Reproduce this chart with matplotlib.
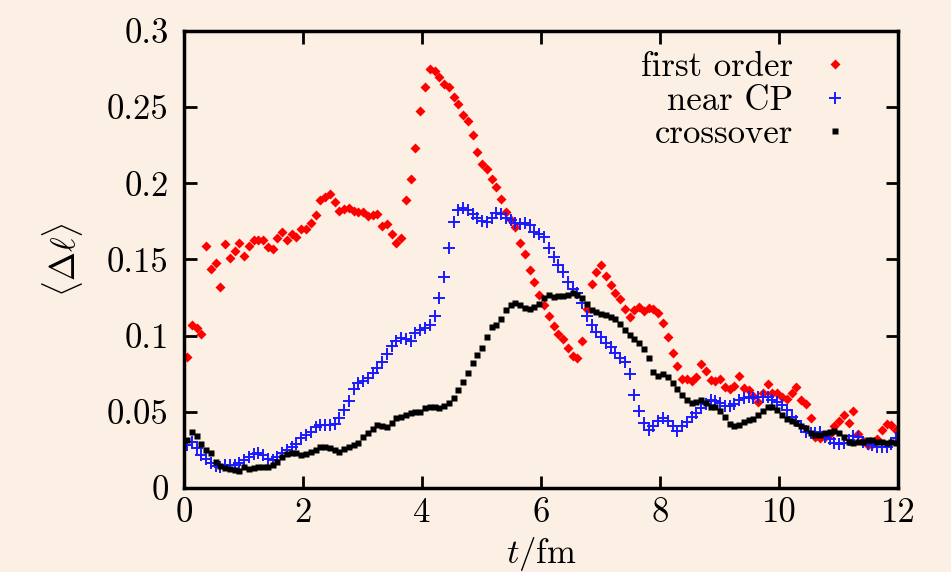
import numpy as np
import matplotlib
matplotlib.use("Agg")
from matplotlib import pyplot as plt
import matplotlib.ticker as ticker

# <Delta l> against time for the three expansion scenarios
first_order = [
    0.086, 0.107, 0.105, 0.101, 0.159, 0.1435, 0.1475, 0.132, 0.160, 0.151,
    0.1555, 0.161, 0.152, 0.159, 0.163, 0.163, 0.163, 0.158, 0.157, 0.164,
    0.168, 0.163, 0.167, 0.1645, 0.170, 0.170, 0.174, 0.1795, 0.189, 0.191,
    0.193, 0.188, 0.182, 0.183, 0.184, 0.182, 0.1815, 0.1815, 0.1785, 0.1795,
    0.180, 0.172, 0.1735, 0.167, 0.1605, 0.164, 0.189, 0.203, 0.223, 0.2475,
    0.263, 0.275, 0.2738, 0.270, 0.2655, 0.2633, 0.257, 0.2524, 0.245, 0.241,
    0.2316, 0.2207, 0.213, 0.2093, 0.203, 0.1977, 0.1894, 0.181, 0.176, 0.171,
    0.161, 0.1533, 0.143, 0.1354, 0.127, 0.120, 0.1129, 0.1063, 0.1008, 0.0976,
    0.092, 0.0868, 0.0851, 0.0967, 0.1173, 0.1337, 0.1415, 0.1463, 0.139, 0.1332,
    0.128, 0.124, 0.1175, 0.112, 0.1168, 0.119, 0.116, 0.1183, 0.1175, 0.115,
    0.108, 0.099, 0.0888, 0.080, 0.0715, 0.0715, 0.0704, 0.073, 0.0814, 0.0768,
    0.0709, 0.0702, 0.0713, 0.066, 0.0648, 0.067, 0.0735, 0.0658, 0.0643, 0.0605,
    0.0566, 0.0621, 0.0682, 0.0625, 0.0625, 0.060, 0.0582, 0.0621, 0.066, 0.0577,
    0.0551, 0.046, 0.0337, 0.033, 0.0335, 0.0355, 0.0405, 0.0442, 0.0479, 0.0424,
    0.0507, 0.0355, 0.031, 0.0285, 0.029, 0.032, 0.0378, 0.0418, 0.0413, 0.038,
]

near_cp = [
    0.028, 0.030, 0.026, 0.0217, 0.0188, 0.0162, 0.0144, 0.014, 0.0151, 0.0151,
    0.015, 0.0162, 0.0184, 0.0206, 0.022, 0.0232, 0.0217, 0.0188, 0.0184, 0.0206,
    0.0228, 0.025, 0.0267, 0.0289, 0.0326, 0.0348, 0.037, 0.040, 0.0413, 0.0413,
    0.0413, 0.042, 0.0457, 0.0512, 0.0573, 0.0648, 0.0687, 0.0702, 0.0724, 0.0757,
    0.0785, 0.0829, 0.0877, 0.0932, 0.0967, 0.0982, 0.0976, 0.0967, 0.1019, 0.1037,
    0.1048, 0.107, 0.1131, 0.1245, 0.1387, 0.1573, 0.1743, 0.1824, 0.1835, 0.1824,
    0.1796, 0.1774, 0.1752, 0.1743, 0.1774, 0.1802, 0.1798, 0.177, 0.1759, 0.1737,
    0.1732, 0.1737, 0.1726, 0.1682, 0.167, 0.165, 0.1573, 0.1518, 0.1463, 0.1419,
    0.1354, 0.1304, 0.1278, 0.1216, 0.1129, 0.107, 0.1026, 0.0993, 0.0953, 0.0923,
    0.0888, 0.0851, 0.0829, 0.0748, 0.061, 0.0505, 0.0425, 0.038, 0.0407, 0.0442,
    0.0457, 0.0442, 0.0407, 0.0376, 0.0407, 0.0435, 0.0464, 0.0494, 0.0523, 0.0551,
    0.0577, 0.0573, 0.0556, 0.0538, 0.0538, 0.0551, 0.0577, 0.0588, 0.0599, 0.0592,
    0.0599, 0.060, 0.0595, 0.0577, 0.0566, 0.0545, 0.0512, 0.0468, 0.0442, 0.0407,
    0.037, 0.0359, 0.036, 0.037, 0.0337, 0.032, 0.0297, 0.0289, 0.0293, 0.0315,
    0.0341, 0.0337, 0.0304, 0.0289, 0.0282, 0.0271, 0.0271, 0.0271, 0.029, 0.0326,
]

crossover = [
    0.0315, 0.037, 0.0343, 0.0287, 0.025, 0.0228, 0.0173, 0.0144, 0.0129, 0.0123,
    0.0118, 0.0114, 0.0136, 0.0123, 0.0129, 0.0136, 0.0136, 0.014, 0.0151, 0.0173,
    0.0206, 0.0221, 0.0232, 0.0228, 0.0217, 0.0222, 0.0235, 0.025, 0.0271, 0.0268,
    0.026, 0.025, 0.0238, 0.0255, 0.0271, 0.0282, 0.0293, 0.0337, 0.0363, 0.0385,
    0.0413, 0.041, 0.0402, 0.0424, 0.0457, 0.0468, 0.048, 0.049, 0.050, 0.050,
    0.0523, 0.0534, 0.0534, 0.0523, 0.0538, 0.0556, 0.0589, 0.0643, 0.0697, 0.0757,
    0.0818, 0.0873, 0.092, 0.0993, 0.1054, 0.107, 0.1107, 0.1168, 0.120, 0.1214,
    0.120, 0.1179, 0.1176, 0.119, 0.1205, 0.125, 0.1266, 0.1255, 0.1258, 0.126,
    0.127, 0.1278, 0.1266, 0.1245, 0.121, 0.117, 0.1155, 0.1144, 0.1135, 0.112,
    0.1107, 0.1076, 0.1035, 0.1007, 0.098, 0.0955, 0.0913, 0.0853, 0.0763, 0.0738,
    0.0748, 0.0726, 0.0687, 0.0648, 0.061, 0.0577, 0.0556, 0.0566, 0.0577, 0.0556,
    0.0534, 0.0529, 0.0507, 0.0464, 0.042, 0.0407, 0.0413, 0.0435, 0.0446, 0.045,
    0.0479, 0.0507, 0.0534, 0.0529, 0.0512, 0.0479, 0.045, 0.0442, 0.0428, 0.0407,
    0.0392, 0.0359, 0.0348, 0.0348, 0.0359, 0.037, 0.0376, 0.0363, 0.0333, 0.0304,
    0.0297, 0.0304, 0.0304, 0.0315, 0.0315, 0.0304, 0.0304, 0.0297, 0.030, 0.0297,
]

x_ticks = [0, 2, 4, 6, 8, 10, 12]
y_ticks = [0, 0.05, 0.1, 0.15, 0.2, 0.25, 0.3]

BG = '#fcf0e5'
FS = 25

plt.rcParams['font.family'] = 'cmr10'
plt.rcParams['mathtext.fontset'] = 'cm'
plt.rcParams['axes.formatter.use_mathtext'] = True


def sample_times(values):
    """uniform time samples covering the run, one per value"""
    return np.linspace(0.05, 11.97, len(values))


fig = plt.figure(figsize=(9.51, 5.72), dpi=100, facecolor=BG)
ax = fig.add_axes([0.1935, 0.1469, 0.7508, 0.7989])
ax.set_facecolor(BG)

ax.plot(sample_times(first_order), first_order, 'D', color='#ff0000',
        ms=5.6, mec='none', label='first order')
ax.plot(sample_times(near_cp), near_cp, '+', color='#1a1aff',
        ms=8, mew=1.4, label='near CP')
ax.plot(sample_times(crossover), crossover, 's', color='black',
        ms=5, mec='none', label='crossover')

ax.set_xlim(0, 12)
ax.set_ylim(0, 0.3)
ax.set_xticks(x_ticks)
ax.set_yticks(y_ticks)
fmt = ticker.FuncFormatter(lambda v, pos: '{:g}'.format(round(v, 3)))
ax.xaxis.set_major_formatter(fmt)
ax.yaxis.set_major_formatter(fmt)
ax.tick_params(direction='in', length=9, width=2, top=True, right=True,
               labelsize=FS)
ax.tick_params(axis='x', pad=7)
ax.tick_params(axis='y', pad=11)
for s in ax.spines.values():
    s.set_linewidth(2.5)

ax.set_xlabel(r'$t/\mathrm{fm}$', fontsize=FS, labelpad=4)
ax.set_ylabel(r'$\langle\Delta\ell\rangle$', fontsize=FS, labelpad=16)

ax.legend(loc='upper right', bbox_to_anchor=(0.955, 0.985), frameon=False,
          markerfirst=False, numpoints=1, fontsize=FS, handlelength=1.0,
          handletextpad=0.7, labelspacing=0.05, borderaxespad=0)

plt.savefig('out.png', dpi=100, facecolor=BG)
